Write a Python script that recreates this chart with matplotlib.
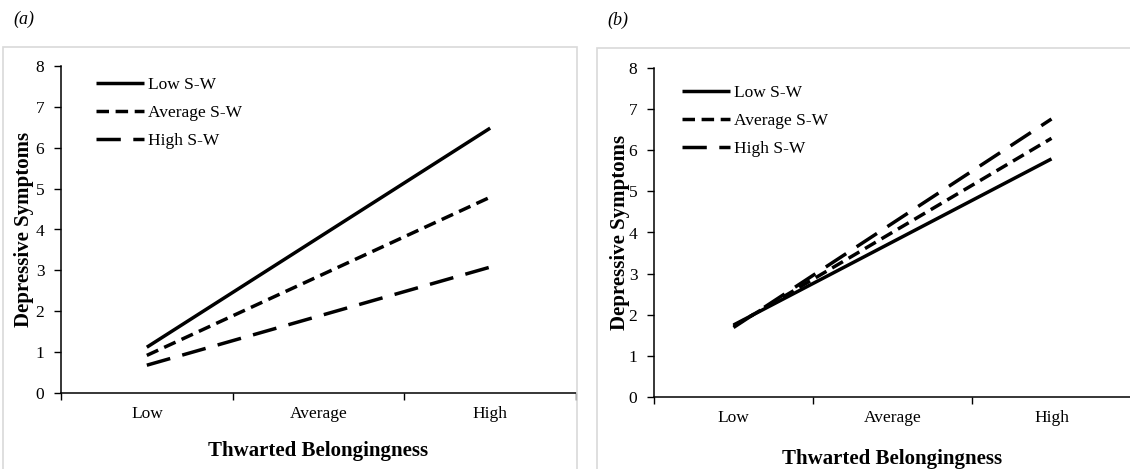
import matplotlib
matplotlib.use("Agg")
import matplotlib.pyplot as plt
from matplotlib.patches import Rectangle

plt.rcParams["font.family"] = ["Liberation Serif", "DejaVu Serif"]

# ============================================
# DATA
# ============================================
tb_levels = ["Low", "Average", "High"]
series_names = ["Low S-W", "Average S-W", "High S-W"]

# panel (a): values at Low and High thwarted belongingness
panel_a_low = [1.12, 0.92, 0.68]
panel_a_high = [6.48, 4.79, 3.08]

# panel (b)
panel_b_low = [1.75, 1.72, 1.69]
panel_b_high = [5.79, 6.29, 6.76]

y_ticks = [0, 1, 2, 3, 4, 5, 6, 7, 8]

# ============================================
# STYLE
# ============================================
W, H = 1130, 469
line_styles = ["-", (0, (3.6, 1.9)), (0, (7.0, 3.6))]
lw = 2.5
fs = 12.5


def draw_panel(ax, low_vals, high_vals, legend_anchor, xlabel_pad, ylabel_pad):
    xs = [0.5, 2.5]
    for name, lo, hi, ls in zip(series_names, low_vals, high_vals, line_styles):
        ax.plot(xs, [lo, hi], color="black", lw=lw, linestyle=ls,
                solid_capstyle="butt", dash_capstyle="butt", label=name)

    ax.set_xlim(0, 3)
    ax.set_ylim(0, 8)
    ax.set_yticks(y_ticks)
    ax.set_xticks([0, 1, 2, 3])
    ax.set_xticklabels([])
    ax.set_xticks([0.5, 1.5, 2.5], minor=True)
    ax.set_xticklabels(tb_levels, minor=True, fontsize=fs)
    ax.tick_params(axis="x", which="major", direction="out", length=5, width=1)
    ax.tick_params(axis="x", which="minor", length=0, pad=9)
    ax.tick_params(axis="y", direction="out", length=5, width=1, labelsize=fs, pad=7)

    for s in ["top", "right"]:
        ax.spines[s].set_visible(False)
    for s in ["left", "bottom"]:
        ax.spines[s].set_linewidth(1.1)

    ax.set_xlabel("Thwarted Belongingness", fontsize=15, fontweight="bold", labelpad=xlabel_pad)
    ax.set_ylabel("Depressive Symptoms", fontsize=15, fontweight="bold", labelpad=ylabel_pad)

    ax.legend(loc="upper left", bbox_to_anchor=legend_anchor, frameon=False,
              fontsize=fs, handlelength=2.75, handletextpad=0.25,
              labelspacing=0.68, borderpad=0, borderaxespad=0)


fig = plt.figure(figsize=(W / 100, H / 100), dpi=100)

# panel frames (light grey boxes)
fig.patches.append(Rectangle((3 / W, -0.05), 574 / W, 1 - 47 / H + 0.05,
                             transform=fig.transFigure, fill=False,
                             edgecolor="#d9d9d9", lw=1.2))
fig.patches.append(Rectangle((597 / W, -0.05), 0.5, 1 - 48 / H + 0.05,
                             transform=fig.transFigure, fill=False,
                             edgecolor="#d9d9d9", lw=1.2))

ax_a = fig.add_axes([61 / W, 1 - 393 / H, 515 / W, 327 / H])
ax_b = fig.add_axes([654 / W, 1 - 397 / H, 477 / W, 329 / H])

draw_panel(ax_a, panel_a_low, panel_a_high, (0.068, 0.967), 14, 1)
draw_panel(ax_b, panel_b_low, panel_b_high, (0.059, 0.948), 17, -1)

fig.text(13 / W, 1 - 19 / H, "(a)", fontsize=13, style="italic", va="center")
fig.text(607 / W, 1 - 20 / H, "(b)", fontsize=13, style="italic", va="center")

fig.savefig("out.png", dpi=100)
